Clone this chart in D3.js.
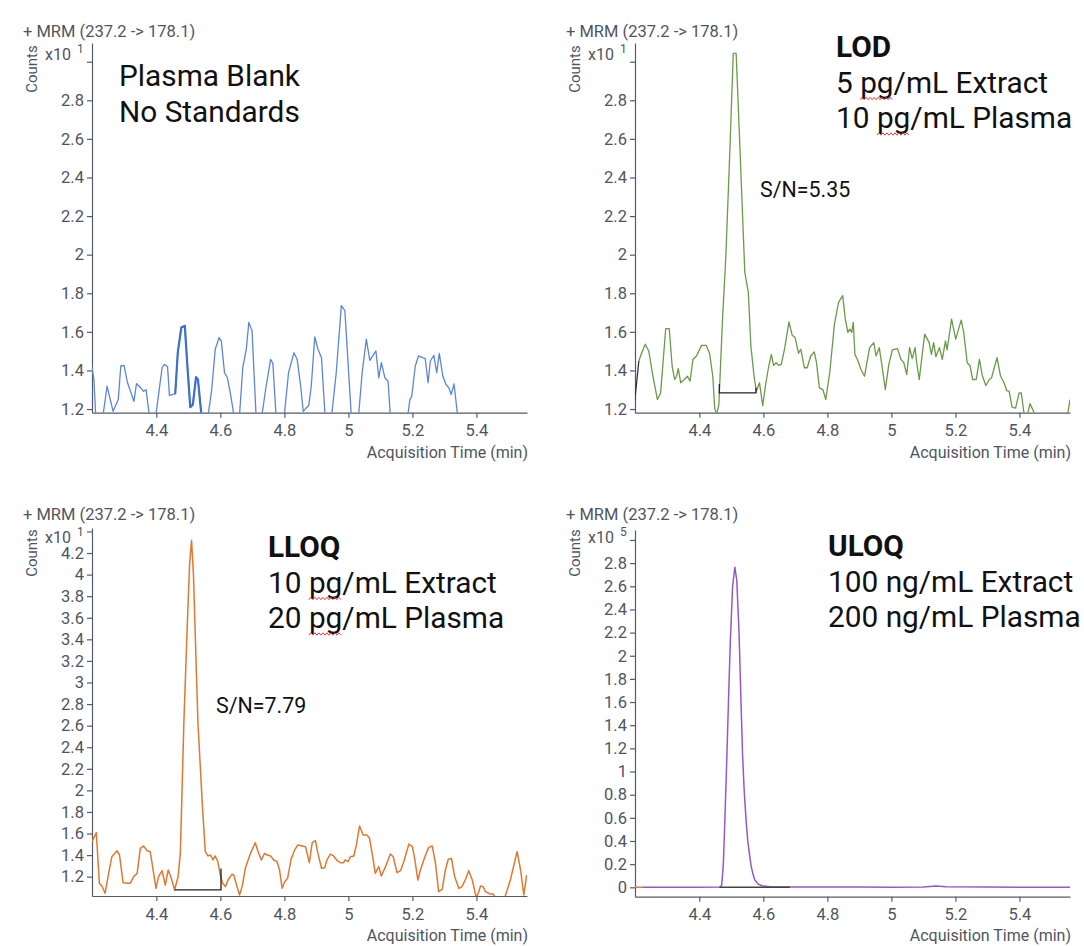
<!DOCTYPE html>
<html><head><meta charset="utf-8">
<script src="https://cdn.jsdelivr.net/npm/d3@7"></script>
<style>
body{margin:0;background:#fff;}
text{font-family:Roboto,"Noto Sans",sans-serif;}
</style></head><body>
<svg id="c" width="1084" height="946"></svg>
<script>
// ---------------- DATA ----------------
const xTicks = [4.4, 4.6, 4.8, 5.0, 5.2, 5.4];
const yTicksNoise = [1.2, 1.4, 1.6, 1.8, 2.0, 2.2, 2.4, 2.6, 2.8, 3.0];
const yTicksLloq = [1.2, 1.4, 1.6, 1.8, 2.0, 2.2, 2.4, 2.6, 2.8, 3.0, 3.2, 3.4, 3.6, 3.8, 4.0, 4.2, 4.4];
const yTicksUloq = [0, 0.2, 0.4, 0.6, 0.8, 1.0, 1.2, 1.4, 1.6, 1.8, 2.0, 2.2, 2.4, 2.6, 2.8, 3.0];

const blankTime = [4.198,4.205,4.211,4.222,4.232,4.246,4.265,4.281,4.289,4.299,4.31,4.33,4.338,4.351,4.36,4.368,4.38,4.388,4.397,4.418,4.425,4.435,4.441,4.449,4.459,4.467,4.478,4.489,4.497,4.506,4.514,4.524,4.53,4.542,4.552,4.562,4.573,4.584,4.596,4.603,4.613,4.622,4.632,4.645,4.652,4.66,4.67,4.681,4.689,4.699,4.712,4.72,4.73,4.743,4.757,4.764,4.775,4.788,4.8,4.813,4.83,4.84,4.851,4.859,4.868,4.876,4.884,4.895,4.905,4.916,4.928,4.938,4.948,4.962,4.978,4.989,5.01,5.02,5.032,5.043,5.056,5.067,5.076,5.086,5.095,5.103,5.114,5.124,5.132,5.15,5.17,5.186,5.192,5.198,5.209,5.219,5.232,5.24,5.249,5.256,5.267,5.276,5.284,5.295,5.305,5.314,5.321,5.33,5.343,5.36,5.4,5.45,5.5,5.558];
const blankCounts = [1.426,1.353,1.15,1.08,1.15,1.318,1.188,1.249,1.423,1.426,1.336,1.24,1.332,1.31,1.292,1.3,1.14,1.08,1.15,1.414,1.431,1.419,1.27,1.275,1.278,1.492,1.623,1.631,1.423,1.21,1.223,1.365,1.353,1.15,1.08,1.17,1.301,1.51,1.57,1.553,1.388,1.362,1.275,1.14,1.09,1.17,1.414,1.51,1.649,1.605,1.15,1.09,1.17,1.318,1.457,1.437,1.14,1.08,1.17,1.388,1.492,1.457,1.318,1.188,1.205,1.217,1.318,1.574,1.51,1.466,1.14,1.08,1.17,1.388,1.736,1.71,1.14,1.08,1.17,1.388,1.562,1.452,1.475,1.501,1.362,1.44,1.362,1.344,1.14,1.07,1.1,1.17,1.249,1.266,1.423,1.475,1.466,1.461,1.336,1.449,1.478,1.388,1.489,1.37,1.327,1.31,1.275,1.33,1.14,1.06,1.08,1.05,1.07,1.06];
const blankPeakRange = [4.459, 4.541];

const lodTime = [4.198,4.211,4.22,4.231,4.242,4.255,4.269,4.279,4.295,4.306,4.315,4.323,4.329,4.334,4.342,4.353,4.363,4.371,4.38,4.391,4.407,4.421,4.432,4.442,4.448,4.454,4.461,4.472,4.483,4.496,4.506,4.515,4.526,4.542,4.553,4.561,4.571,4.578,4.588,4.598,4.607,4.616,4.625,4.632,4.64,4.648,4.656,4.667,4.68,4.69,4.699,4.71,4.717,4.728,4.737,4.748,4.759,4.766,4.775,4.786,4.795,4.808,4.822,4.835,4.848,4.856,4.864,4.87,4.876,4.881,4.886,4.894,4.905,4.916,4.932,4.945,4.952,4.962,4.97,4.981,4.992,5.003,5.019,5.03,5.039,5.048,5.057,5.065,5.074,5.079,5.087,5.104,5.118,5.125,5.132,5.139,5.15,5.159,5.169,5.174,5.188,5.201,5.218,5.226,5.237,5.246,5.254,5.265,5.275,5.284,5.295,5.306,5.313,5.33,5.341,5.352,5.36,5.368,5.377,5.388,5.399,5.406,5.414,5.425,5.433,5.444,5.45,5.47,5.5,5.53,5.548,5.553,5.558];
const lodCounts = [1.24,1.449,1.492,1.536,1.501,1.37,1.249,1.283,1.617,1.617,1.423,1.353,1.37,1.409,1.336,1.353,1.37,1.344,1.457,1.475,1.53,1.53,1.489,1.37,1.205,1.17,1.223,1.649,1.997,2.57,3.043,3.043,2.588,1.91,1.805,1.527,1.37,1.292,1.336,1.217,1.327,1.414,1.483,1.426,1.44,1.426,1.431,1.518,1.652,1.583,1.571,1.489,1.51,1.414,1.414,1.475,1.496,1.44,1.31,1.301,1.249,1.397,1.64,1.753,1.788,1.666,1.597,1.614,1.597,1.649,1.483,1.457,1.405,1.37,1.518,1.544,1.475,1.518,1.431,1.301,1.431,1.506,1.513,1.457,1.44,1.379,1.518,1.461,1.518,1.44,1.353,1.588,1.544,1.483,1.544,1.471,1.518,1.457,1.553,1.506,1.666,1.562,1.661,1.597,1.44,1.423,1.353,1.353,1.457,1.374,1.322,1.353,1.362,1.466,1.37,1.336,1.296,1.292,1.21,1.205,1.283,1.283,1.18,1.17,1.228,1.188,1.16,1.1,1.08,1.12,1.15,1.197,1.249];
const lodBaseline = [[4.4625, 1.33], [4.4625, 1.284], [4.577, 1.284], [4.577, 1.31]];

const lloqTime = [4.199,4.2125,4.222,4.23,4.24,4.251,4.261,4.277,4.285,4.296,4.312,4.319,4.329,4.34,4.35,4.36,4.371,4.381,4.399,4.407,4.418,4.428,4.437,4.446,4.457,4.468,4.475,4.486,4.497,4.504,4.51,4.516,4.522,4.53,4.544,4.553,4.561,4.569,4.577,4.584,4.592,4.6,4.607,4.616,4.624,4.636,4.642,4.652,4.66,4.668,4.678,4.694,4.709,4.718,4.728,4.738,4.746,4.756,4.767,4.777,4.785,4.793,4.801,4.81,4.821,4.832,4.842,4.855,4.866,4.878,4.887,4.897,4.905,4.916,4.926,4.933,4.944,4.954,4.965,4.975,4.985,4.99,4.999,5.006,5.017,5.025,5.035,5.046,5.058,5.066,5.076,5.084,5.095,5.103,5.116,5.131,5.14,5.152,5.163,5.173,5.189,5.2,5.207,5.217,5.225,5.239,5.251,5.262,5.272,5.282,5.293,5.303,5.312,5.322,5.332,5.345,5.355,5.366,5.376,5.387,5.4,5.413,5.421,5.428,5.442,5.452,5.465,5.48,5.49,5.506,5.527,5.538,5.548,5.557];
const lloqCounts = [1.524,1.608,1.139,1.114,1.046,1.231,1.385,1.441,1.401,1.144,1.139,1.14,1.2,1.231,1.463,1.485,1.441,1.432,1.092,1.2,1.256,1.123,1.262,1.194,1.077,1.2,1.416,2.627,3.558,4.1,4.318,4.0,3.4,2.627,1.852,1.432,1.392,1.401,1.355,1.392,1.339,1.215,1.139,1.108,1.169,1.222,1.215,1.108,1.03,1.108,1.278,1.416,1.515,1.432,1.355,1.416,1.401,1.395,1.355,1.339,1.262,1.092,1.154,1.185,1.361,1.447,1.494,1.485,1.478,1.33,1.515,1.534,1.416,1.278,1.283,1.355,1.41,1.392,1.348,1.33,1.33,1.355,1.339,1.385,1.392,1.494,1.67,1.586,1.586,1.556,1.385,1.231,1.293,1.206,1.293,1.41,1.385,1.237,1.256,1.339,1.503,1.478,1.37,1.169,1.262,1.385,1.472,1.485,1.324,1.061,1.083,1.262,1.361,1.37,1.2,1.092,1.108,1.176,1.256,1.169,1.0,1.114,1.108,1.061,1.04,1.04,0.98,0.98,1.02,1.169,1.432,1.262,1.03,1.215];
const lloqBaseline = [[4.457, 1.077], [4.602, 1.077], [4.602, 1.275]];

const uloqTime = [4.224,4.3,4.4,4.465,4.47,4.475,4.48,4.486,4.492,4.497,4.504,4.511,4.517,4.524,4.53,4.535,4.54,4.546,4.551,4.557,4.562,4.568,4.573,4.583,4.595,4.62,4.64,4.7,4.8,4.9,5.0,5.1,5.14,5.17,5.3,5.45,5.558];
const uloqCounts = [0,0,0,0.002,0.02,0.2,0.6,1.13,1.7,2.14,2.6,2.765,2.65,2.2,1.62,1.15,0.84,0.58,0.41,0.28,0.18,0.11,0.066,0.03,0.014,0.006,0.003,0.002,0.003,0.002,0.001,0.003,0.012,0.004,0.002,0.001,0.001];
const uloqLeadTime = [4.199, 4.224];
const uloqLeadCounts = [0, 0];
const uloqBaseline = [[4.4625, 0], [4.683, 0]];

const titleText = "+ MRM (237.2 -> 178.1)";
const xTitle = "Acquisition Time (min)";

// ---------------- LAYOUT ----------------
const svg = d3.select("#c");
const axisColor = "#555b66", textColor = "#4f5560";
const W = 435;
const panels = [
  {ax:92, base:412.7, top:43, dom:[1.181,3.097], ticks:yTicksNoise, exp:"1", tx:23, ty:36.5, cy:69, xy:60, xt:458},
  {ax:635, base:412.7, top:43, dom:[1.181,3.097], ticks:yTicksNoise, exp:"1", tx:566, ty:36.5, cy:69, xy:60, xt:458},
  {ax:92, base:896, top:528, dom:[1.021,4.432], ticks:yTicksLloq, exp:"1", tx:23, ty:519.5, cy:553, xy:543, xt:941},
  {ax:635, base:896.7, top:530, dom:[-0.081,3.086], ticks:yTicksUloq, exp:"5", tx:566, ty:519.5, cy:553, xy:543, xt:941},
];

panels.forEach((p,i)=>{
  p.x = d3.scaleLinear().domain([4.199,5.558]).range([p.ax, p.ax+W]);
  p.y = d3.scaleLinear().domain(p.dom).range([p.base, p.top]);
  const g = svg.append("g");
  const topTick = p.ticks[p.ticks.length-1];
  const yAx = d3.axisLeft(p.y).tickValues(p.ticks).tickSize(5).tickSizeOuter(0).tickPadding(3)
      .tickFormat(d => d===topTick ? "" : String(+d.toFixed(1)));
  const gy = g.append("g").attr("transform",`translate(${p.ax},0)`).call(yAx);
  const xAx = d3.axisBottom(p.x).tickValues(xTicks).tickSize(5).tickSizeOuter(0).tickPadding(7)
      .tickFormat(d => String(+d.toFixed(1)));
  const gx = g.append("g").attr("transform",`translate(0,${p.base})`).call(xAx);
  [gy,gx].forEach(a=>{
    a.selectAll("path,line").attr("stroke",axisColor).attr("stroke-width",1.2);
    a.selectAll("text").attr("fill",textColor).style("font-size","16.5px").style("font-family","Roboto");
  });
  g.append("text").attr("x",p.tx).attr("y",p.ty).attr("fill",textColor).style("font-size","16.5px").text(titleText);
  g.append("text").attr("transform",`translate(${p.ax-55},${p.cy}) rotate(-90)`).attr("text-anchor","middle")
    .attr("fill",textColor).style("font-size","15px").text("Counts");
  g.append("text").attr("x",p.ax-47).attr("y",p.xy).attr("fill",textColor).style("font-size","16px").text("x10");
  g.append("text").attr("x",p.ax-15).attr("y",p.xy-7).attr("fill",textColor).style("font-size","12px").text(p.exp);
  g.append("text").attr("x",p.ax+W+1).attr("y",p.xt).attr("text-anchor","end").attr("fill",textColor).style("font-size","16px").text(xTitle);
  svg.append("clipPath").attr("id","clip"+i).append("rect")
    .attr("x",p.ax).attr("y",p.top-20).attr("width",W).attr("height",p.base-p.top+20);
  p.plot = svg.append("g").attr("clip-path",`url(#clip${i})`);
});

function drawLine(p, times, vals, color, width){
  const pts = times.map((t,k)=>[t, vals[k]]);
  const line = d3.line().x(d=>p.x(d[0])).y(d=>p.y(d[1]));
  p.plot.append("path").attr("d", line(pts)).attr("fill","none").attr("stroke",color)
    .attr("stroke-width",width).attr("stroke-linejoin","round");
}
function drawPairs(p, pairs, color, width){
  const line = d3.line().x(d=>p.x(d[0])).y(d=>p.y(d[1]));
  p.plot.append("path").attr("d", line(pairs)).attr("fill","none").attr("stroke",color).attr("stroke-width",width);
}

const P1=panels[0], P2=panels[1], P3=panels[2], P4=panels[3];
drawLine(P1, blankTime, blankCounts, "#5a86d6", 1.3);
{
  const idx = blankTime.map((t,k)=>k).filter(k=>blankTime[k]>=blankPeakRange[0]-0.001 && blankTime[k]<=blankPeakRange[1]+0.001);
  drawLine(P1, idx.map(k=>blankTime[k]), idx.map(k=>blankCounts[k]), "#3f6fc8", 2.2);
}
drawLine(P2, lodTime.slice(1), lodCounts.slice(1), "#6a9a48", 1.3);
drawLine(P2, lodTime.slice(0,2), lodCounts.slice(0,2), "#333", 1.3);
drawPairs(P2, lodBaseline, "#222", 1.3);
drawLine(P3, lloqTime, lloqCounts, "#dc7a32", 1.5);
drawPairs(P3, lloqBaseline, "#222", 1.3);
drawLine(P4, uloqTime, uloqCounts, "#9558c8", 1.5);
drawLine(P4, uloqLeadTime, uloqLeadCounts, "#e07b39", 1.5);
drawPairs(P4, uloqBaseline, "#444", 1.6);

// ---------------- ANNOTATIONS ----------------
function block(x, y0, lines, boldFirst, squig){
  lines.forEach((s,k)=>{
    const t = svg.append("text").attr("x",x).attr("y",y0+k*35.5).attr("fill","#111")
      .style("font-size","29.8px").style("font-weight", (boldFirst&&k===0)?"700":"400").text(s);
    if (squig && s.includes(" pg/")) {
      const n = t.node(), i0 = s.indexOf("pg");
      const a = n.getStartPositionOfChar(i0).x, b = n.getEndPositionOfChar(i0+1).x;
      const yb = y0+k*35.5+6;
      const pts = d3.range(0, Math.floor((b-a)/2)+1).map(j=>[a+j*2, yb + (j%2? -1.2:1.2)]);
      svg.append("path").attr("d", d3.line()(pts)).attr("fill","none").attr("stroke","#e23a3a").attr("stroke-width",1);
    }
  });
}
block(119, 86, ["Plasma Blank","No Standards"], false, false);
block(836, 57, ["LOD","5 pg/mL Extract","10 pg/mL Plasma"], true, true);
block(268, 557, ["LLOQ","10 pg/mL Extract","20 pg/mL Plasma"], true, true);
block(828, 556, ["ULOQ","100 ng/mL Extract","200 ng/mL Plasma"], true, false);

svg.append("text").attr("x",760).attr("y",197).attr("fill","#111").style("font-size","21.4px").text("S/N=5.35");
svg.append("text").attr("x",216).attr("y",713).attr("fill","#111").style("font-size","21.4px").text("S/N=7.79");
</script>
</body></html>
